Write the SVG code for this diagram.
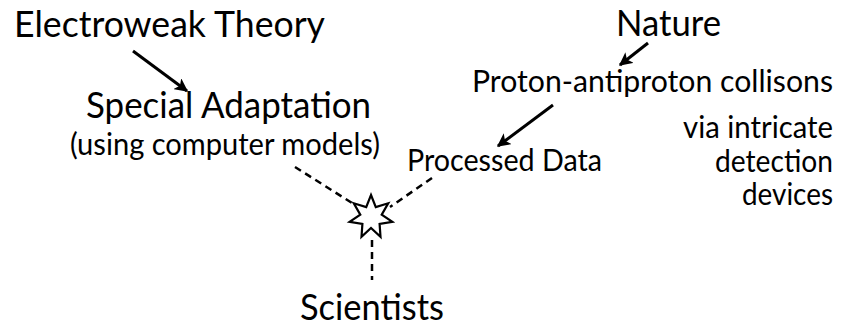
<svg xmlns="http://www.w3.org/2000/svg" width="842" height="329" viewBox="0 0 842 329">
<defs>
<marker id="ah" viewBox="0 0 10 10" refX="9" refY="5" markerWidth="4.5" markerHeight="4.5" orient="auto" markerUnits="strokeWidth">
<path d="M0,0 L10,5 L0,10 L2.5,5 z" fill="#000"/>
</marker>
</defs>
<style>
text{font-family:Lato,"Noto Sans",sans-serif;fill:#000}
.big{font-size:37px}
.mid{font-size:30px}
.arr{stroke:#000;stroke-width:3;fill:none;marker-end:url(#ah)}
.dash{stroke:#000;stroke-width:2.5;fill:none;stroke-dasharray:7,5}
</style>
<rect width="842" height="329" fill="#fff"/>
<g id="connectors">
<line class="arr" x1="133" y1="51" x2="187" y2="91"/>
<line class="arr" x1="648" y1="43" x2="620" y2="65"/>
<line class="arr" x1="553" y1="105" x2="498" y2="146"/>
<line class="dash" x1="295" y1="167" x2="352" y2="203"/>
<line class="dash" x1="432" y1="178" x2="390" y2="207"/>
<line class="dash" x1="372" y1="240" x2="372" y2="280"/>
</g>
<g id="electroweak"><text class="big" x="14" y="37" textLength="311" lengthAdjust="spacingAndGlyphs">Electroweak Theory</text></g>
<g id="nature"><text class="big" x="616" y="36" textLength="105" lengthAdjust="spacingAndGlyphs">Nature</text></g>
<g id="special"><text class="big" x="86" y="118" textLength="285" lengthAdjust="spacingAndGlyphs">Special Adaptation</text>
<text class="mid" x="70" y="155" textLength="310" lengthAdjust="spacingAndGlyphs">(using computer models)</text></g>
<g id="proton"><text class="mid" text-anchor="end" x="833" y="92" textLength="361" lengthAdjust="spacingAndGlyphs">Proton-antiproton collisons</text>
<text class="mid" text-anchor="end" x="833" y="138" textLength="150" lengthAdjust="spacingAndGlyphs">via intricate</text>
<text class="mid" text-anchor="end" x="833" y="172" textLength="118" lengthAdjust="spacingAndGlyphs">detection</text>
<text class="mid" text-anchor="end" x="833" y="205" textLength="91" lengthAdjust="spacingAndGlyphs">devices</text></g>
<g id="processed"><text class="mid" x="407" y="171" textLength="195" lengthAdjust="spacingAndGlyphs">Processed Data</text></g>
<g id="star"><polygon points="371,195 375.8,207.1 388.2,203.3 381.7,214.6 392.4,221.9 379.6,223.9 380.5,236.8 371,228 361.5,236.8 362.4,223.9 349.6,221.9 360.3,214.6 353.8,203.3 366.2,207.1" fill="#fff" stroke="#000" stroke-width="2.2" stroke-linejoin="miter"/></g>
<g id="scientists"><text class="big" x="300" y="320" textLength="144" lengthAdjust="spacingAndGlyphs">Scientists</text></g>
</svg>
